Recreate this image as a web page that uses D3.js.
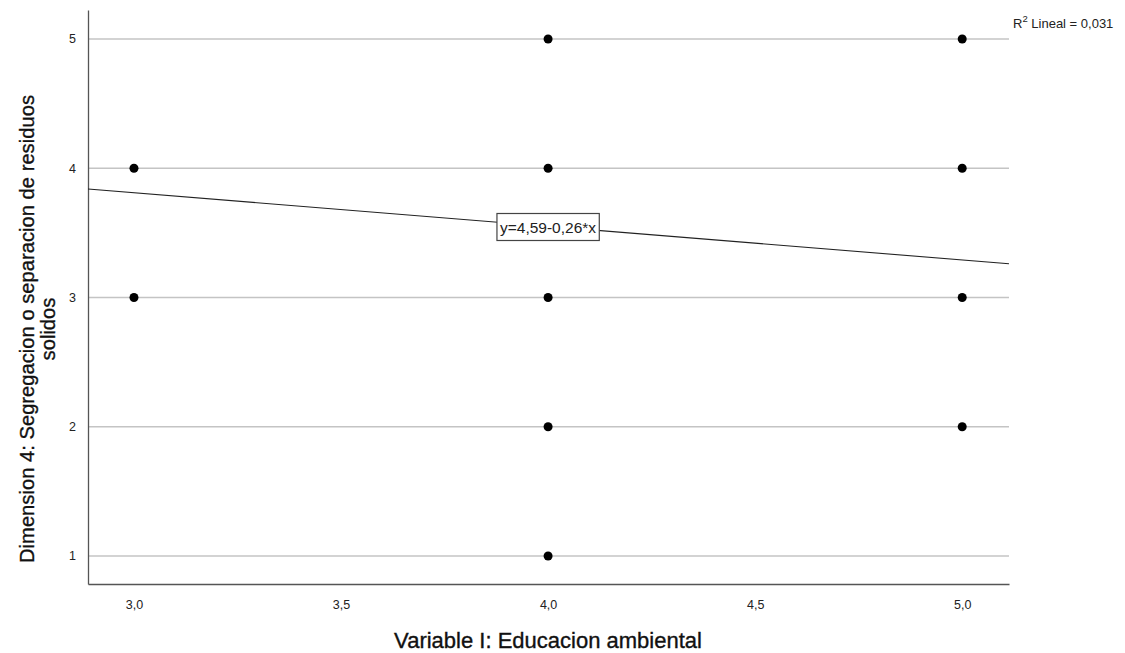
<!DOCTYPE html>
<html><head><meta charset="utf-8">
<script src="https://cdn.jsdelivr.net/npm/d3@7"></script>
<style>body{margin:0;background:#fff}svg{display:block}text{font-family:"Liberation Sans",Arial,sans-serif}</style>
</head><body>
<svg id="c" width="1125" height="653"></svg>
<script>
const xVals = [3, 3, 4, 4, 4, 4, 4, 5, 5, 5, 5];
const yVals = [4, 3, 5, 4, 3, 2, 1, 5, 4, 3, 2];
const xTicks = [3.0, 3.5, 4.0, 4.5, 5.0];
const yTicks = [1, 2, 3, 4, 5];
const intercept = 4.59, slope = -0.26;
const eqLabel = "y=4,59-0,26*x";
const r2Label = "0,031";
const xTitle = "Variable I: Educacion ambiental";
const yTitleLines = ["Dimension 4: Segregacion o separacion de residuos", "solidos"];

const svg = d3.select("#c");
const L = 88, R = 1009, T = 10, B = 584;
const x = d3.scaleLinear().domain([2.889, 5.113]).range([L, R]);
const y = d3.scaleLinear().domain([0.783, 5.224]).range([B, T]);

// grid
svg.append("g").selectAll("line").data(yTicks).join("line")
  .attr("x1", L).attr("x2", R).attr("y1", d => y(d)).attr("y2", d => y(d))
  .attr("stroke", "#c4c4c4").attr("stroke-width", 1.5);

// axes
const fmt = d => d.toFixed(1).replace(".", ",");
const xa = svg.append("g").attr("transform", `translate(0,${B})`)
  .call(d3.axisBottom(x).tickValues(xTicks).tickFormat(fmt).tickSize(0).tickPadding(16));
xa.select(".domain").attr("stroke", "#555").attr("stroke-width", 1.3);
xa.selectAll("text").attr("font-size", 12.5).attr("fill", "#222");

const ya = svg.append("g").attr("transform", `translate(${L},0)`)
  .call(d3.axisLeft(y).tickValues(yTicks).tickFormat(d3.format("d")).tickSize(0).tickPadding(12));
ya.select(".domain").attr("stroke", "#555").attr("stroke-width", 1.3);
ya.selectAll("text").attr("font-size", 12.5).attr("fill", "#222");

// fit line
svg.append("line")
  .attr("x1", x(x.domain()[0])).attr("y1", y(intercept + slope * x.domain()[0]))
  .attr("x2", x(x.domain()[1])).attr("y2", y(intercept + slope * x.domain()[1]))
  .attr("stroke", "#222").attr("stroke-width", 1.1);

// points
svg.append("g").selectAll("circle").data(xVals.map((d, i) => [d, yVals[i]])).join("circle")
  .attr("cx", d => x(d[0])).attr("cy", d => y(d[1])).attr("r", 4.5).attr("fill", "#000");

// equation box
const ex = 548, ey = 227;
const eg = svg.append("g");
const et = eg.append("text").attr("x", ex).attr("y", ey).attr("text-anchor", "middle")
  .attr("dominant-baseline", "central")
  .attr("font-size", 15.5).attr("fill", "#222").text(eqLabel);
const bb = et.node().getBBox();
eg.insert("rect", "text").attr("x", bb.x - 3).attr("y", ey - 13.5).attr("width", bb.width + 6).attr("height", 27)
  .attr("fill", "#fff").attr("stroke", "#444").attr("stroke-width", 1.2);

// R2 label
const rt = svg.append("text").attr("x", 1013).attr("y", 28).attr("font-size", 13).attr("fill", "#222");
rt.append("tspan").text("R");
rt.append("tspan").attr("dy", -6).attr("font-size", 9.5).text("2");
rt.append("tspan").attr("dy", 6).text(" Lineal = " + r2Label);

// titles
svg.append("text").attr("x", 548).attr("y", 648).attr("text-anchor", "middle")
  .attr("font-size", 22).attr("fill", "#111").attr("stroke", "#111").attr("stroke-width", 0.35).text(xTitle);
const yt = svg.append("text").attr("transform", "translate(34,329) rotate(-90)").attr("text-anchor", "middle")
  .attr("font-size", 20.2).attr("fill", "#111").attr("stroke", "#111").attr("stroke-width", 0.35);
yTitleLines.forEach((s, i) => yt.append("tspan").attr("x", 0).attr("dy", i ? 21 : 0).text(s));
</script>
</body></html>
